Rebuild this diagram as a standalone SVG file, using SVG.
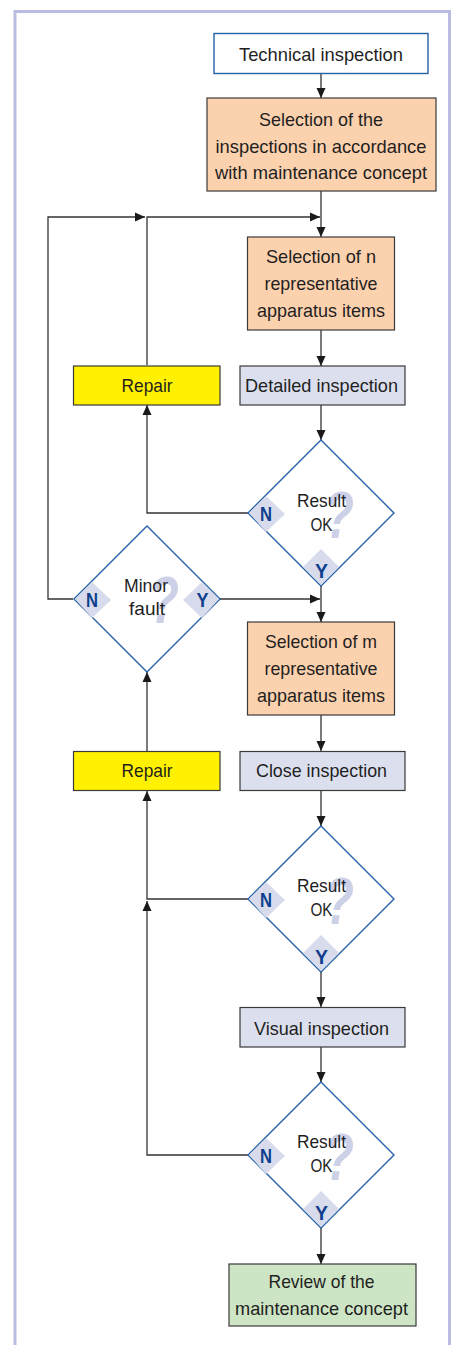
<svg xmlns="http://www.w3.org/2000/svg" width="453" height="1345" viewBox="0 0 453 1345">
  <style>
    .frame { fill: none; stroke: #b9bde2; stroke-width: 3; }
    .box { stroke: #3a3a3a; stroke-width: 1.2; }
    .start { fill: #ffffff; stroke: #2461a8; stroke-width: 1.4; }
    .select { fill: #fcd1ae; }
    .inspect { fill: #dcdfee; }
    .repair { fill: #fff100; }
    .review { fill: #cde5c4; }
    .decision { fill: #ffffff; stroke: #2461a8; stroke-width: 1.4; }
    .tile { fill: #d7dbec; }
    .qmark { font-family: "Liberation Sans", Arial, sans-serif; font-weight: bold; font-style: italic; font-size: 66px; fill: #cdd1e7; text-anchor: middle; }
    .lbl { font-family: "Liberation Sans", Arial, sans-serif; font-size: 19px; fill: #1f1f1f; text-anchor: middle; }
    .yn { font-family: "Liberation Sans", Arial, sans-serif; font-weight: bold; font-size: 20px; fill: #0f3f8c; text-anchor: middle; }
    .wire { fill: none; stroke: #333333; stroke-width: 1.3; }
  </style>
  <defs>
    <marker id="arrow" viewBox="0 0 10 10" refX="10" refY="5" markerWidth="10" markerHeight="10" markerUnits="userSpaceOnUse" orient="auto">
      <path d="M0,0.5 L10,5 L0,9.5 Z" fill="#1a1a1a"/>
    </marker>
  </defs>

  <rect class="frame" x="15" y="11.5" width="434.5" height="1345"/>

  <!-- connectors -->
  <g id="connectors">
    <path class="wire" d="M321,73 V98" marker-end="url(#arrow)"/>
    <path class="wire" d="M321,191 V237" marker-end="url(#arrow)"/>
    <path class="wire" d="M147,365 V217 H320" marker-end="url(#arrow)"/>
    <path class="wire" d="M73,599 H48 V217 H145" marker-end="url(#arrow)"/>
    <path class="wire" d="M321,330 V366" marker-end="url(#arrow)"/>
    <path class="wire" d="M321,405 V440" marker-end="url(#arrow)"/>
    <path class="wire" d="M248,513 H147 V405" marker-end="url(#arrow)"/>
    <path class="wire" d="M321,586 V622" marker-end="url(#arrow)"/>
    <path class="wire" d="M220,599 H320" marker-end="url(#arrow)"/>
    <path class="wire" d="M147,751 V672" marker-end="url(#arrow)"/>
    <path class="wire" d="M321,715 V751" marker-end="url(#arrow)"/>
    <path class="wire" d="M321,791 V826" marker-end="url(#arrow)"/>
    <path class="wire" d="M248,899 H147 V791" marker-end="url(#arrow)"/>
    <path class="wire" d="M321,972 V1007" marker-end="url(#arrow)"/>
    <path class="wire" d="M321,1047 V1082" marker-end="url(#arrow)"/>
    <path class="wire" d="M248,1155 H147 V901" marker-end="url(#arrow)"/>
    <path class="wire" d="M321,1228 V1264" marker-end="url(#arrow)"/>
  </g>

  <g id="technical-inspection">
    <rect class="start" x="214" y="33.5" width="214" height="40"/>
    <text class="lbl" x="321" y="61" textLength="164" lengthAdjust="spacingAndGlyphs">Technical inspection</text>
  </g>

  <g id="select-inspections">
    <rect class="box select" x="207" y="98" width="229" height="93"/>
    <text class="lbl" x="321" y="126" textLength="124" lengthAdjust="spacingAndGlyphs">Selection of the</text>
    <text class="lbl" x="321" y="152.5" textLength="211" lengthAdjust="spacingAndGlyphs">inspections in accordance</text>
    <text class="lbl" x="321" y="179" textLength="212" lengthAdjust="spacingAndGlyphs">with maintenance concept</text>
  </g>

  <g id="select-n">
    <rect class="box select" x="247.5" y="237" width="147" height="93"/>
    <text class="lbl" x="321" y="263" textLength="110" lengthAdjust="spacingAndGlyphs">Selection of n</text>
    <text class="lbl" x="321" y="290" textLength="113" lengthAdjust="spacingAndGlyphs">representative</text>
    <text class="lbl" x="321" y="317" textLength="128" lengthAdjust="spacingAndGlyphs">apparatus items</text>
  </g>

  <g id="repair-1">
    <rect class="box repair" x="73.5" y="366" width="146.5" height="39"/>
    <text class="lbl" x="147" y="392" textLength="51" lengthAdjust="spacingAndGlyphs">Repair</text>
  </g>

  <g id="detailed-inspection">
    <rect class="box inspect" x="240" y="366" width="165" height="39"/>
    <text class="lbl" x="321.5" y="392" textLength="153" lengthAdjust="spacingAndGlyphs">Detailed inspection</text>
  </g>

  <g id="result-1">
    <polygon class="decision" points="321,440 394,513 321,586 248,513"/>
    <polygon class="tile" points="249,513 266,496 285,514 266,532"/>
    <polygon class="tile" points="321,585 339,567 321,549 303,567"/>
    <text class="qmark" x="339" y="538" textLength="30" lengthAdjust="spacingAndGlyphs">?</text>
    <text class="lbl" x="321.5" y="507" textLength="49" lengthAdjust="spacingAndGlyphs">Result</text>
    <text class="lbl" x="321.5" y="531" textLength="22" lengthAdjust="spacingAndGlyphs">OK</text>
    <text class="yn" x="266" y="521" textLength="12" lengthAdjust="spacingAndGlyphs">N</text>
    <text class="yn" x="321.5" y="578" textLength="13" lengthAdjust="spacingAndGlyphs">Y</text>
  </g>

  <g id="minor-fault">
    <polygon class="decision" points="147,526 220,599 147,672 74,599"/>
    <polygon class="tile" points="75,599 92,582 111,600 92,618"/>
    <polygon class="tile" points="219,599 202,582 183,600 202,618"/>
    <text class="qmark" x="164" y="623" textLength="30" lengthAdjust="spacingAndGlyphs">?</text>
    <text class="lbl" x="146" y="592" textLength="44" lengthAdjust="spacingAndGlyphs">Minor</text>
    <text class="lbl" x="147" y="615" textLength="36" lengthAdjust="spacingAndGlyphs">fault</text>
    <text class="yn" x="92" y="607" textLength="12" lengthAdjust="spacingAndGlyphs">N</text>
    <text class="yn" x="202.5" y="607" textLength="12" lengthAdjust="spacingAndGlyphs">Y</text>
  </g>

  <g id="select-m">
    <rect class="box select" x="247.5" y="622" width="147" height="93"/>
    <text class="lbl" x="321" y="648" textLength="112" lengthAdjust="spacingAndGlyphs">Selection of m</text>
    <text class="lbl" x="321" y="675" textLength="113" lengthAdjust="spacingAndGlyphs">representative</text>
    <text class="lbl" x="321" y="702" textLength="128" lengthAdjust="spacingAndGlyphs">apparatus items</text>
  </g>

  <g id="repair-2">
    <rect class="box repair" x="73.5" y="751.5" width="146.5" height="39"/>
    <text class="lbl" x="147" y="777" textLength="51" lengthAdjust="spacingAndGlyphs">Repair</text>
  </g>

  <g id="close-inspection">
    <rect class="box inspect" x="240" y="751.5" width="165" height="39"/>
    <text class="lbl" x="321.5" y="777" textLength="131" lengthAdjust="spacingAndGlyphs">Close inspection</text>
  </g>

  <g id="result-2">
    <polygon class="decision" points="321,826 394,899 321,972 248,899"/>
    <polygon class="tile" points="249,899 266,882 285,900 266,918"/>
    <polygon class="tile" points="321,971 339,953 321,935 303,953"/>
    <text class="qmark" x="339" y="924" textLength="30" lengthAdjust="spacingAndGlyphs">?</text>
    <text class="lbl" x="321.5" y="892" textLength="49" lengthAdjust="spacingAndGlyphs">Result</text>
    <text class="lbl" x="321.5" y="916" textLength="22" lengthAdjust="spacingAndGlyphs">OK</text>
    <text class="yn" x="266" y="907" textLength="12" lengthAdjust="spacingAndGlyphs">N</text>
    <text class="yn" x="321.5" y="964" textLength="13" lengthAdjust="spacingAndGlyphs">Y</text>
  </g>

  <g id="visual-inspection">
    <rect class="box inspect" x="240" y="1007.5" width="165" height="39.5"/>
    <text class="lbl" x="321.5" y="1035" textLength="135" lengthAdjust="spacingAndGlyphs">Visual inspection</text>
  </g>

  <g id="result-3">
    <polygon class="decision" points="321,1082 394,1155 321,1228 248,1155"/>
    <polygon class="tile" points="249,1155 266,1138 285,1156 266,1174"/>
    <polygon class="tile" points="321,1227 339,1209 321,1191 303,1209"/>
    <text class="qmark" x="339" y="1180" textLength="30" lengthAdjust="spacingAndGlyphs">?</text>
    <text class="lbl" x="321.5" y="1148" textLength="49" lengthAdjust="spacingAndGlyphs">Result</text>
    <text class="lbl" x="321.5" y="1172" textLength="22" lengthAdjust="spacingAndGlyphs">OK</text>
    <text class="yn" x="266" y="1163" textLength="12" lengthAdjust="spacingAndGlyphs">N</text>
    <text class="yn" x="321.5" y="1220" textLength="13" lengthAdjust="spacingAndGlyphs">Y</text>
  </g>

  <g id="review-concept">
    <rect class="box review" x="229" y="1264" width="187" height="62"/>
    <text class="lbl" x="321.5" y="1288" textLength="106" lengthAdjust="spacingAndGlyphs">Review of the</text>
    <text class="lbl" x="321.5" y="1315" textLength="173" lengthAdjust="spacingAndGlyphs">maintenance concept</text>
  </g>
</svg>
